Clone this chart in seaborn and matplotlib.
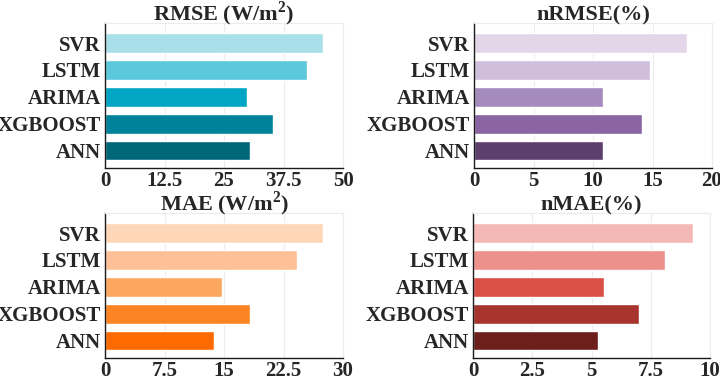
import seaborn as sns
import matplotlib.pyplot as plt
import pandas as pd

# model order top to bottom
models = ["SVR", "LSTM", "ARIMA", "XGBOOST", "ANN"]

rmse = [45.7, 42.4, 29.8, 35.2, 30.5]
nrmse = [17.9, 14.8, 10.8, 14.1, 10.8]
mae = [27.5, 24.2, 14.7, 18.3, 13.7]
nmae = [9.27, 8.09, 5.53, 6.99, 5.28]

rmse_colors = ["#a8dfe9", "#5bc8dc", "#00a6c4", "#00839a", "#006779"]
nrmse_colors = ["#e3d6e8", "#cfbfdc", "#a58bbd", "#8b64a3", "#5c3f6c"]
mae_colors = ["#fed6b8", "#fdc097", "#fca75f", "#fd8422", "#ff6a00"]
nmae_colors = ["#f4b9b7", "#ed918c", "#da4f47", "#a7342e", "#6c1f1b"]

panels = [
    ("RMSE (W/m$^\\mathbf{2}$)", rmse, rmse_colors, [0, 12.5, 25, 37.5, 50], ["0", "12.5", "25", "37.5", "50"]),
    ("nRMSE(%)", nrmse, nrmse_colors, [0, 5, 10, 15, 20], ["0", "5", "10", "15", "20"]),
    ("MAE (W/m$^\\mathbf{2}$)", mae, mae_colors, [0, 7.5, 15, 22.5, 30], ["0", "7.5", "15", "22.5", "30"]),
    ("nMAE(%)", nmae, nmae_colors, [0, 2.5, 5, 7.5, 10], ["0", "2.5", "5", "7.5", "10"]),
]

sns.set_style("white")
plt.rcParams["font.family"] = ["Liberation Serif", "DejaVu Serif"]
plt.rcParams["font.weight"] = "bold"
plt.rcParams["mathtext.fontset"] = "custom"
plt.rcParams["mathtext.rm"] = "Liberation Serif:bold"
plt.rcParams["mathtext.bf"] = "Liberation Serif:bold"

fig = plt.figure(figsize=(7.2, 3.79), dpi=100)
W, H = 720, 379
# axes boxes in pixels: left, top, right, bottom
boxes = [(105, 23, 343, 168), (474, 23, 712, 168),
         (105, 213, 343, 358), (473, 213, 710, 358)]

for (title, vals, cols, ticks, tlabels), (l, t, r, b) in zip(panels, boxes):
    ax = fig.add_axes([l / W, 1 - b / H, (r - l) / W, (b - t) / H])
    df = pd.DataFrame({"model": models, "value": vals})
    sns.barplot(data=df, x="value", y="model", hue="model", palette=cols,
                order=models, width=0.74, legend=False, ax=ax, saturation=1)
    ax.set_xlim(0, ticks[-1])
    ax.set_ylim(4.65, -0.75)
    ax.set_xticks(ticks)
    ax.set_xticklabels(tlabels)
    ax.set_xlabel("")
    ax.set_ylabel("")
    ax.set_title(title, fontsize=16, fontweight="bold", pad=2)
    ax.xaxis.grid(True, color="#ececec", linewidth=0.8)
    ax.set_axisbelow(True)
    ax.tick_params(axis="x", direction="in", length=3, width=0.8, labelsize=15, pad=2)
    ax.tick_params(axis="y", length=0, labelsize=15, pad=3)
    for lab in ax.get_xticklabels() + ax.get_yticklabels():
        lab.set_fontweight("bold")
    for s in ["left", "bottom"]:
        ax.spines[s].set_color("#1a1a1a")
        ax.spines[s].set_linewidth(1.0)
    for s in ["top", "right"]:
        ax.spines[s].set_color("#ececec")
        ax.spines[s].set_linewidth(0.8)

fig.savefig("out.png", dpi=100)
